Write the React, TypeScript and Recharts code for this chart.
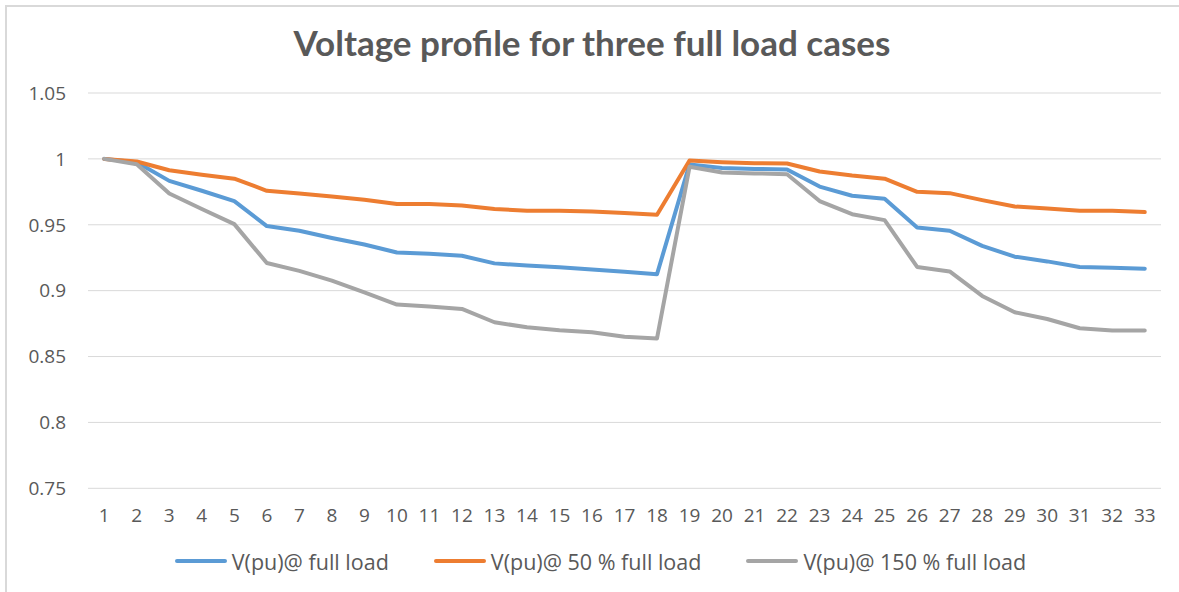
import { CartesianGrid, Legend, Line, LineChart, XAxis, YAxis } from "recharts";

const buses = [
  "1", "2", "3", "4", "5", "6", "7", "8", "9", "10", "11",
  "12", "13", "14", "15", "16", "17", "18", "19", "20", "21", "22",
  "23", "24", "25", "26", "27", "28", "29", "30", "31", "32", "33",
];

const fullLoad = [
  1.0, 0.9975, 0.9833, 0.9758, 0.968, 0.949, 0.9455, 0.94, 0.935, 0.929, 0.928,
  0.9265, 0.9207, 0.919, 0.9177, 0.916, 0.9144, 0.9125, 0.9958, 0.993, 0.9924, 0.992,
  0.979, 0.972, 0.9697, 0.948, 0.9455, 0.934, 0.9258, 0.9222, 0.918, 0.9174, 0.9167,
];

const halfLoad = [
  1.0, 0.998, 0.9914, 0.988, 0.985, 0.9758, 0.9737, 0.9715, 0.969, 0.9657, 0.9657,
  0.9646, 0.962, 0.9606, 0.9606, 0.96, 0.959, 0.9576, 0.9988, 0.9975, 0.9967, 0.9965,
  0.9904, 0.9874, 0.985, 0.975, 0.974, 0.9687, 0.9639, 0.9624, 0.9606, 0.9606, 0.9596,
];

const heavyLoad = [
  1.0, 0.996, 0.9737, 0.962, 0.9505, 0.921, 0.915, 0.9076, 0.8987, 0.8894, 0.888,
  0.8861, 0.876, 0.8722, 0.87, 0.8684, 0.865, 0.8637, 0.994, 0.9896, 0.989, 0.9884,
  0.968, 0.958, 0.9535, 0.918, 0.9146, 0.896, 0.8836, 0.8785, 0.8715, 0.8697, 0.8697,
];

const yTicks = [0.75, 0.8, 0.85, 0.9, 0.95, 1, 1.05];

const series = [
  { key: "full", name: "V(pu)@ full load", color: "#5B9BD5" },
  { key: "half", name: "V(pu)@ 50 % full load", color: "#ED7D31" },
  { key: "heavy", name: "V(pu)@ 150 % full load", color: "#A5A5A5" },
];

const data = buses.map((bus, i) => ({
  bus,
  full: fullLoad[i],
  half: halfLoad[i],
  heavy: heavyLoad[i],
}));

const TEXT = "#595959";
const FONT = "'Open Sans', sans-serif";

function ChartLegend() {
  return (
    <div style={{ display: "flex", justifyContent: "center", alignItems: "center", gap: 45, height: 40, paddingLeft: 32 }}>
      {series.map(s => (
        <div key={s.key} style={{ display: "flex", alignItems: "center" }}>
          <svg width={52} height={6} style={{ marginRight: 5 }}>
            <line x1={2} y1={3} x2={50} y2={3} stroke={s.color} strokeWidth={4} strokeLinecap="round" />
          </svg>
          <span style={{ fontFamily: FONT, fontSize: 21.5, color: TEXT, whiteSpace: "nowrap" }}>{s.name}</span>
        </div>
      ))}
    </div>
  );
}

export default function App() {
  return (
    <div style={{ position: "fixed", left: 0, top: 0, width: 1179, height: 592, background: "#fff" }}>
      <div
        style={{
          position: "absolute", left: 5, top: 5, right: 0, bottom: 0,
          borderLeft: "2px solid #d9d9d9", borderTop: "2px solid #d9d9d9",
        }}
      />
      <div
        style={{
          position: "absolute", left: 0, width: 1184, top: 21, textAlign: "center",
          fontFamily: "Lato, sans-serif", fontWeight: 700, fontSize: 35, color: TEXT,
        }}
      >
        Voltage profile for three full load cases
      </div>
      <div style={{ position: "absolute", left: 0, top: 0 }}>
        <LineChart width={1179} height={592} data={data} margin={{ top: 93, right: 18, left: 8, bottom: 11 }}>
          <CartesianGrid vertical={false} stroke="#d9d9d9" />
          <XAxis
            dataKey="bus"
            interval={0}
            padding={{ left: 16.25, right: 16.25 }}
            tickLine={false}
            axisLine={false}
            tickMargin={14}
            height={52.7}
            tick={{ fill: TEXT, fontSize: 19, fontFamily: FONT }}
          />
          <YAxis
            domain={[0.75, 1.05]}
            ticks={yTicks}
            width={80}
            tickLine={false}
            axisLine={false}
            tickMargin={16}
            tick={{ fill: TEXT, fontSize: 19, fontFamily: FONT }}
          />
          <Legend verticalAlign="bottom" height={40} content={() => <ChartLegend />} />
          {series.map(s => (
            <Line
              key={s.key}
              type="linear"
              dataKey={s.key}
              name={s.name}
              stroke={s.color}
              strokeWidth={4}
              strokeLinecap="round"
              strokeLinejoin="round"
              dot={false}
              isAnimationActive={false}
            />
          ))}
        </LineChart>
      </div>
    </div>
  );
}
